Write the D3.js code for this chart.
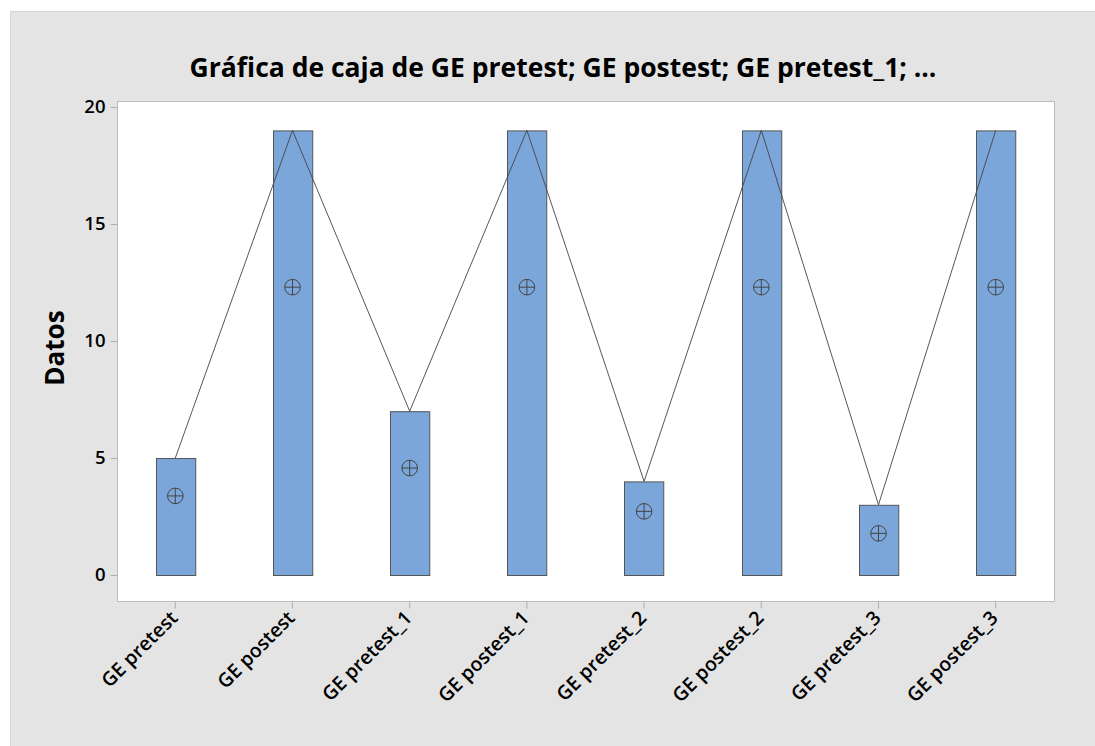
<!DOCTYPE html>
<meta charset="utf-8">
<style>
body { margin: 0; background: #fff; }
text { font-family: "Open Sans", "Noto Sans", sans-serif; }
</style>
<svg width="1095" height="746"></svg>
<script src="https://d3js.org/d3.v7.min.js"></script>
<script>

// columns of the box plot
var categories = ["GE pretest", "GE postest", "GE pretest_1", "GE postest_1",
                  "GE pretest_2", "GE postest_2", "GE pretest_3", "GE postest_3"];
var q1 = [0, 0, 0, 0, 0, 0, 0, 0];
var q3 = [5, 19, 7, 19, 4, 19, 3, 19];
var medians = [5, 19, 7, 19, 4, 19, 3, 19];
var means = [3.38, 12.3, 4.57, 12.3, 2.72, 12.3, 1.78, 12.3];
var yTicks = [0, 5, 10, 15, 20];

var svg = d3.select("svg"),
    width = +svg.attr("width"),
    height = +svg.attr("height");

var plot = {left: 117, top: 101, right: 1054, bottom: 601};

// gray panel behind everything
svg.append("rect")
    .attr("x", 10.5).attr("y", 11.5)
    .attr("width", width - 10).attr("height", height - 11)
    .attr("fill", "#e4e4e4")
    .attr("stroke", "#d6d6d6");

svg.append("rect")
    .attr("x", plot.left + 0.5).attr("y", plot.top + 0.5)
    .attr("width", plot.right - plot.left).attr("height", plot.bottom - plot.top)
    .attr("fill", "#fff")
    .attr("stroke", "#bdbdbd");

var x = d3.scaleBand()
    .domain(categories)
    .range([plot.left, plot.right])
    .paddingInner(0.665)
    .paddingOuter(0.33);

var y = d3.scaleLinear()
    .domain([0, 20])
    .range([575, 107]);

var cx = function(i) { return x(categories[i]) + x.bandwidth() / 2; };

// y axis
var yAxis = svg.append("g")
    .attr("transform", "translate(" + (plot.left + 0.5) + ",0)")
    .call(d3.axisLeft(y).tickValues(yTicks).tickSize(7).tickPadding(5));
yAxis.select(".domain").remove();
yAxis.selectAll(".tick line").attr("stroke", "#b0b0b0");
yAxis.selectAll(".tick text")
    .attr("fill", "#000")
    .style("font-size", "18.5px")
    .style("font-weight", "600");

// x axis
var xAxis = svg.append("g")
    .attr("transform", "translate(0," + (plot.bottom + 0.5) + ")")
    .call(d3.axisBottom(x).tickSize(7).tickPadding(4));
xAxis.select(".domain").remove();
xAxis.selectAll(".tick line").attr("stroke", "#b0b0b0");
xAxis.selectAll(".tick text")
    .attr("fill", "#000")
    .style("font-size", "19.5px")
    .style("font-weight", "600")
    .style("text-anchor", "end")
    .attr("x", -10)
    .attr("y", 15)
    .attr("dy", 0)
    .attr("transform", "rotate(-45)");

// boxes
svg.append("g").selectAll("rect")
    .data(categories)
    .enter().append("rect")
      .attr("x", function(d, i) { return Math.round(x(d)) + 0.5; })
      .attr("y", function(d, i) { return y(q3[i]) + 0.5; })
      .attr("width", x.bandwidth())
      .attr("height", function(d, i) { return y(q1[i]) - y(q3[i]); })
      .attr("fill", "#7ba6d9")
      .attr("stroke", "#555")
      .attr("stroke-width", 1);

// median connect line
var line = d3.line()
    .x(function(d, i) { return cx(i); })
    .y(function(d) { return y(d); });

svg.append("path")
    .datum(medians)
    .attr("d", line)
    .attr("fill", "none")
    .attr("stroke", "#444")
    .attr("stroke-width", 0.9);

// mean symbols
var meanG = svg.append("g").selectAll("g")
    .data(means)
    .enter().append("g")
      .attr("transform", function(d, i) { return "translate(" + cx(i) + "," + y(d) + ")"; });

meanG.append("circle")
    .attr("r", 7.8)
    .attr("fill", "none")
    .attr("stroke", "#444")
    .attr("stroke-width", 1);
meanG.append("path")
    .attr("d", "M-7.8,0H7.8M0,-7.8V7.8")
    .attr("stroke", "#444")
    .attr("stroke-width", 1);

// titles
svg.append("text")
    .attr("x", 563).attr("y", 77)
    .attr("text-anchor", "middle")
    .style("font-size", "26.5px")
    .style("font-weight", "700")
    .text("Gráfica de caja de GE pretest; GE postest; GE pretest_1; ...");

svg.append("text")
    .attr("transform", "translate(64,348) rotate(-90)")
    .attr("text-anchor", "middle")
    .style("font-size", "26px")
    .style("font-weight", "700")
    .text("Datos");

</script>
